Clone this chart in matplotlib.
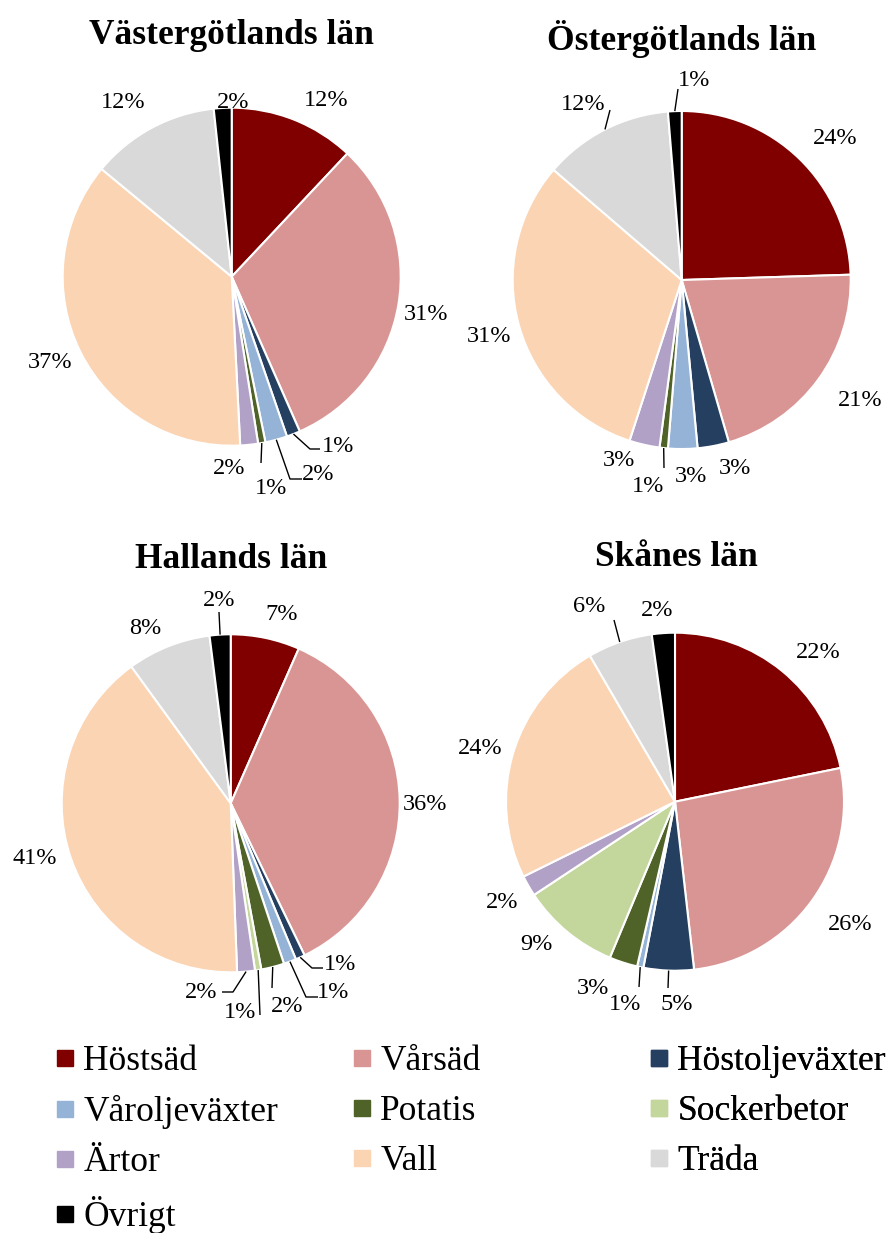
import matplotlib
matplotlib.use("Agg")
import matplotlib.pyplot as plt
from matplotlib.lines import Line2D
import numpy as np

plt.rcParams['font.family'] = ['Liberation Serif', 'DejaVu Serif']

# ---------------- data ----------------
categories = ["Höstsäd", "Vårsäd", "Höstoljeväxter", "Våroljeväxter", "Potatis",
              "Sockerbetor", "Ärtor", "Vall", "Träda", "Övrigt"]
colors = ["#800000", "#D99594", "#243F60", "#95B3D7", "#4F6228",
          "#C3D69B", "#B2A1C7", "#FBD4B4", "#D9D9D9", "#000000"]

regions = ["Västergötlands län", "Östergötlands län", "Hallands län", "Skånes län"]
vastergotland = [12.0, 31.4, 1.3, 2.1, 0.7, 0.0, 1.7, 36.8, 12.3, 1.7]
ostergotland = [24.5, 21.0, 3.0, 2.8, 0.8, 0.0, 2.9, 31.3, 12.4, 1.3]
halland = [6.6, 36.2, 0.9, 1.2, 2.2, 0.6, 1.7, 40.6, 8.0, 2.0]
skane = [21.8, 26.4, 4.8, 0.6, 2.7, 9.4, 2.0, 23.9, 6.2, 2.2]
region_values = [vastergotland, ostergotland, halland, skane]

# ---------------- layout (pixel coordinates, y from top) ----------------
W, H = 895, 1233
R = 169
LABEL_DY = 3
layouts = [
    dict(center=(231.7, 276.7), title=(231, 35),
         labels={0: (326, 97), 1: (426, 312), 2: (338, 443), 3: (318, 472),
                 4: (271, 485), 6: (229, 465), 7: (50, 360), 8: (123, 100), 9: (233, 100)},
         leaders={2: [(310, 449), (320, 449)], 3: [(290, 479), (302, 479)], 4: [(261, 463)]}),
    dict(center=(681.7, 280), title=(682, 39),
         labels={0: (835, 136), 1: (860, 397), 2: (735, 465), 3: (691, 473),
                 4: (648, 484), 6: (619, 457), 7: (489, 333), 8: (583, 102), 9: (694, 77)},
         leaders={4: [(664, 468)], 8: [(610, 110)], 9: [(678, 89)]}),
    dict(center=(230.7, 803.3), title=(231, 560),
         labels={0: (282, 612), 1: (425, 802), 2: (340, 962), 3: (333, 990),
                 4: (287, 1004), 5: (240, 1010), 6: (201, 989), 7: (35, 856),
                 8: (145, 626), 9: (219, 598)},
         leaders={2: [(312, 968), (323, 968)], 3: [(306, 997), (318, 997)],
                  4: [(272, 988)], 5: [(260, 1015)], 6: [(233, 992), (222, 992)],
                  9: [(219, 612)]}),
    dict(center=(675, 801.7), title=(676, 558),
         labels={0: (818, 650), 1: (850, 922), 2: (677, 1002), 3: (625, 1002),
                 4: (593, 985), 5: (536, 942), 6: (502, 900), 7: (480, 745),
                 8: (589, 603), 9: (657, 608)},
         leaders={2: [(668, 988)], 3: [(639, 987)], 8: [(614, 620)]}),
]

fig = plt.figure(figsize=(W / 100, H / 100), dpi=100)
ax = fig.add_axes([0, 0, 1, 1])

for name, vals, lay in zip(regions, region_values, layouts):
    idx = [i for i, v in enumerate(vals) if v > 0]
    v = [vals[i] for i in idx]
    cx, cy = lay['center']
    wedges, _ = ax.pie(v, colors=[colors[i] for i in idx], startangle=90,
                       counterclock=False, center=(cx, H - cy), radius=R,
                       wedgeprops=dict(edgecolor='white', linewidth=1.5))
    total = sum(v)
    for w, i, val in zip(wedges, idx, v):
        pct = val / total * 100
        lx, ly = lay['labels'][i]
        ax.text(lx, H - ly - LABEL_DY, f"{pct:.0f}%", ha='center', va='center', fontsize=17.5)
        if i in lay['leaders']:
            th = np.deg2rad((w.theta1 + w.theta2) / 2)
            x0 = cx + R * np.cos(th)
            y0 = (H - cy) + R * np.sin(th)
            pts = [(x0, y0)] + [(px, H - py) for px, py in lay['leaders'][i]]
            xs, ys = zip(*pts)
            ax.plot(xs, ys, color='black', lw=1.0, solid_capstyle='butt')
    tx, ty = lay['title']
    ax.text(tx, H - ty, name, ha='center', va='center', fontsize=25.5, fontweight='bold')

# ---------------- legend (row-wise order, 3 columns) ----------------
col_items = [[0, 3, 6, 9], [1, 4, 7], [2, 5, 8]]
col_x = [56, 353, 650]
legend_top = 1045
for k, (items, x) in enumerate(zip(col_items, col_x)):
    handles = [Line2D([], [], marker='s', markersize=11, linestyle='none',
                      markerfacecolor=colors[i], markeredgecolor=colors[i]) for i in items]
    leg = ax.legend(handles, [categories[i] for i in items], loc='upper left',
                    bbox_to_anchor=(x, H - legend_top), bbox_transform=ax.transData,
                    frameon=False, fontsize=25.5, handlelength=0.5, handletextpad=0.27,
                    labelspacing=0.48, borderpad=0, borderaxespad=0)
    ax.add_artist(leg)

ax.set_xlim(0, W)
ax.set_ylim(0, H)
ax.set_aspect('auto')
ax.axis('off')
fig.savefig("out.png", dpi=100)
